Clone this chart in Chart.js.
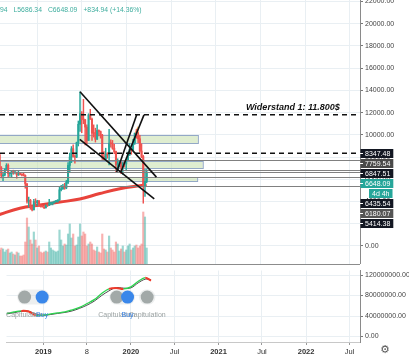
<!DOCTYPE html>
<html><head><meta charset="utf-8">
<script src="https://cdn.jsdelivr.net/npm/chart.js@4.4.0/dist/chart.umd.min.js"></script>
<style>
html,body{margin:0;padding:0;background:#fff;overflow:hidden}
#wrap{position:relative;width:409px;height:359px;background:#fff}
#c1{position:absolute;left:0;top:0}
#c2{position:absolute;left:0;top:264px}
</style></head><body>
<div id="wrap"><canvas id="c1" width="409" height="264"></canvas><canvas id="c2" width="409" height="95"></canvas></div>
<script>
// ---------- DATA ----------
const weeks = ["2018-07-30","2018-08-06","2018-08-13","2018-08-20","2018-08-27","2018-09-03","2018-09-10","2018-09-17","2018-09-24","2018-10-01","2018-10-08","2018-10-15","2018-10-22","2018-10-29","2018-11-05","2018-11-12","2018-11-19","2018-11-26","2018-12-03","2018-12-10","2018-12-17","2018-12-24","2018-12-31",
"2019-01-07","2019-01-14","2019-01-21","2019-01-28","2019-02-04","2019-02-11","2019-02-18","2019-02-25","2019-03-04","2019-03-11","2019-03-18","2019-03-25","2019-04-01","2019-04-08","2019-04-15","2019-04-22","2019-04-29","2019-05-06","2019-05-13","2019-05-20","2019-05-27","2019-06-03","2019-06-10","2019-06-17","2019-06-24","2019-07-01","2019-07-08","2019-07-15","2019-07-22","2019-07-29","2019-08-05","2019-08-12","2019-08-19","2019-08-26","2019-09-02","2019-09-09","2019-09-16","2019-09-23","2019-09-30","2019-10-07","2019-10-14","2019-10-21","2019-10-28","2019-11-04","2019-11-11","2019-11-18","2019-11-25","2019-12-02","2019-12-09","2019-12-16","2019-12-23","2019-12-30",
"2020-01-06","2020-01-13","2020-01-20","2020-01-27","2020-02-03","2020-02-10","2020-02-17","2020-02-24","2020-03-02","2020-03-09","2020-03-16","2020-03-23"];
const open = [8200,7030,6310,6390,6910,7260,6500,6520,6710,6600,6610,6390,6490,6440,6380,6350,5600,4010,4100,3550,3250,4000,3900,
4050,3620,3550,3520,3450,3650,3640,3810,3860,3900,4000,4010,4150,5060,5150,5300,5220,5720,7250,8010,8750,8050,8000,9300,10950,11900,11400,11350,10700,9500,11800,11400,10150,10130,9600,10400,10300,9980,8050,7800,8300,8200,9250,9200,8800,8500,7300,7400,7500,7100,7500,7380,
7750,8190,8700,8600,9300,10150,9900,9650,8550,8050,5360,5813.15];
const high = [8280,7150,6620,6950,7410,7390,6600,6800,6820,6680,6650,6800,6550,6500,6550,6400,5620,4400,4200,3600,4200,4250,4100,
4100,3700,3650,3550,3700,3700,4200,3950,3950,4050,4100,4150,5300,5450,5550,5650,5900,7500,8350,8950,9100,8200,9350,11250,13880,12100,13200,11400,10900,11900,12300,11500,10900,10600,10900,10450,10350,10050,8500,8800,8400,10500,9550,9500,9150,8550,7850,7700,7550,7500,7700,7800,
8450,9200,8750,9600,10160,10500,10200,9950,9200,8150,6900,6882.94];
const low = [6900,6120,5880,6300,6880,6150,6250,6200,6450,6480,6100,6350,6400,6300,6300,5200,3850,3500,3300,3150,3250,3550,3650,
3550,3500,3500,3350,3400,3550,3640,3700,3700,3850,3950,3950,4100,4950,5100,5100,5150,5600,6600,7500,8000,7450,7950,9000,10300,10200,11000,9100,9200,9500,11400,9500,9800,9350,9600,9900,9700,7800,7700,7800,7900,7300,8900,8700,8300,6600,6850,7100,6500,6450,7100,6850,
7700,8150,8250,8550,9150,9700,9300,8450,7950,3850,4450,5686.34];
const close = [7030,6310,6390,6910,7260,6500,6520,6710,6600,6610,6390,6490,6440,6380,6350,5600,4010,4100,3550,3250,4000,3900,4050,
3620,3550,3520,3450,3650,3640,3810,3860,3900,4000,4010,4150,5060,5150,5300,5220,5720,7250,8010,8750,8050,8000,9300,10950,11900,11400,11350,10700,9500,11800,11400,10150,10130,9600,10400,10300,9980,8050,7800,8300,8200,9250,9200,8800,8500,7300,7400,7500,7100,7500,7380,7750,
8190,8700,8600,9300,10150,9900,9650,8550,8050,5360,5813.15,6648.09];
const volume = [14,16,15,12,14,15,11,12,10,9,12,11,8,8,9,22,46,37,24,20,32,24,16,
18,12,11,12,13,12,22,16,14,13,12,13,34,24,18,20,19,30,40,26,30,18,19,27,40,28,32,30,18,20,22,20,14,13,17,12,11,30,15,14,12,28,16,14,12,22,20,13,15,18,12,14,
18,20,14,16,18,19,16,18,20,52,47,16];

const maDates = ["2018-07-23","2018-10-21","2019-01-11","2019-04-03","2019-06-23","2019-09-13","2019-12-04","2020-02-24","2020-03-23"];
const maValues = [2780,3400,3680,3950,4230,4720,5150,5420,5490];

const sketchDates = ["2020-01-27","2020-02-05","2020-02-14","2020-02-22","2020-03-01"];
const sketchPrices = [8900,10100,10600,9700,8700];

const priceTicks = [0,2000,4000,6000,8000,10000,12000,14000,16000,18000,20000,22000];
const tickDates = ["2019-01-01","2019-07-01","2020-01-01","2020-07-01","2021-01-01","2021-07-01","2022-01-01","2022-07-01"];
const tickLabels = ["2019","8","2020","Jul","2021","Jul","2022","Jul"];

const zoneLow  = [9300, 7058, 5830];
const zoneHigh = [9955, 7623, 6215];
const zoneEnd  = ["2020-10-19","2020-11-08","2020-10-16"];

const trendFromDate  = ["2019-06-24","2019-06-23","2019-11-21","2019-12-08"];
const trendFromPrice = [13880, 9600, 6658, 6658];
const trendToDate    = ["2020-05-02","2020-04-23","2020-02-11","2020-03-12"];
const trendToPrice   = [6200, 4230, 11800, 11800];

const dashedLevels = [11800, 8347.48];
const solidLevels = [7759.54, 6847.51, 6648.09, 6180.07, 5414.38];
const levelPrices = [8347.48, 7759.54, 6847.51, 6648.09, 6435.54, 6180.07, 5414.38];
const countdownText = "4d 4h";
const resistanceText = "Widerstand 1: 11.800$";
const resistanceDate = "2021-05-04";
const resistancePrice = 12500;
const headerTokens = ["94","L5686.34","C6648.09","+834.94 (+14.36%)"];

const hashDates = ["2018-08-01","2018-09-01","2018-10-01","2018-11-01","2018-12-01","2019-01-01","2019-02-01","2019-03-01","2019-04-01","2019-05-01","2019-06-01","2019-07-01","2019-08-01","2019-09-01","2019-10-01","2019-11-01","2019-12-01","2020-01-01","2020-02-01","2020-03-01","2020-03-25"];
const hash30 = [45,48,50,49,41,42,44,46,48,52,57,64,72,84,93,95,93,97,108,115,109];
const hash60 = [44,46.5,49,49.5,44,41.5,43,45,47,50,55,61,69,80,89,95.5,94.5,95,105,112,111];
const hashTicks = [0,40000000,80000000,120000000];
const signalDates = ["2018-10-15","2018-12-27","2019-11-03","2019-12-18","2020-03-09"];
const signalKinds = ["cap","buy","cap","buy","cap"];
const signalLevel = 77000000;
const pillFrom = ["2018-10-15","2019-11-03","2020-03-06"];
const pillTo   = ["2018-12-27","2019-12-18","2020-03-12"];

// ---------- STYLE / LAYOUT ----------
const UP='#26a69a', DN='#ef5350';
const levelBoxColors = ['#131722','#4a4a4a','#131722','#26a69a','#131722','#555555','#131722'];
const FONT = '"Liberation Sans", Arial, sans-serif';
const xMin = 2018.5796, xMax = 2022.6155;
const AXW = 49;

function yf(s){ const d = Date.parse(s+'T00:00:00Z'); const y = +s.slice(0,4); const a = Date.UTC(y,0,1), b = Date.UTC(y+1,0,1); return y + (d-a)/(b-a); }

function xScale(show){
  return { type:'linear', min:xMin, max:xMax, offset:false,
    afterBuildTicks: s => { s.ticks = tickDates.map(d => ({value: yf(d)})); },
    ticks:{ display:show, autoSkip:false, maxRotation:0, padding:2, color:'#333',
      callback:(v,i)=>tickLabels[i],
      font: c => ({size:7.5, family:FONT, weight: /^\d{4}$/.test(tickLabels[c.index]||'') ? 'bold':'normal'}) },
    grid:{ color:'#e9eff3', offset:false, drawTicks:show, tickLength:3, tickColor:'#999' },
    border:{ display:show, color:'#c8c8c8' },
    afterFit: s => { s.height = show ? 17 : 0; s.paddingLeft = 0; s.paddingRight = 0; } };
}
function yAxis(min,max,ticks){
  return { position:'right', min, max,
    afterBuildTicks: s => { s.ticks = ticks.map(v => ({value:v})); },
    ticks:{ callback: v => Number(v).toFixed(2), font:{size:7, family:FONT}, color:'#444', padding:2, autoSkip:false },
    grid:{ color:'#e9eff3', drawTicks:true, tickLength:3, tickColor:'#777' },
    border:{ color:'#8a8a8a' },
    afterFit: s => { s.width = AXW; s.paddingTop = 0; s.paddingBottom = 0; } };
}

const candleX = weeks.map(yf);
const isUp = close.map((c,i)=> c >= open[i]);

const drawPlugin = {
  id:'drawings',
  beforeDatasetsDraw(chart){
    const {ctx, chartArea:a, scales:{x,y}} = chart;
    ctx.save(); ctx.beginPath(); ctx.rect(a.left,a.top,a.width,a.height); ctx.clip();
    zoneLow.forEach((lo,i)=>{
      const x0 = a.left-2, x1 = x.getPixelForValue(yf(zoneEnd[i]));
      const y0 = Math.round(y.getPixelForValue(zoneHigh[i])), y1 = Math.round(y.getPixelForValue(lo));
      ctx.fillStyle='rgba(196,222,170,0.55)'; ctx.fillRect(x0,y0,x1-x0,y1-y0);
      ctx.strokeStyle='#93a8c6'; ctx.lineWidth=1; ctx.strokeRect(x0+0.5,y0+0.5,x1-x0,y1-y0);
    });
    ctx.restore();
  },
  afterDatasetsDraw(chart){
    const {ctx, chartArea:a, scales:{x,y}} = chart;
    ctx.save(); ctx.beginPath(); ctx.rect(a.left,a.top,a.width,a.height); ctx.clip();
    solidLevels.forEach(p=>{ const py=Math.round(y.getPixelForValue(p))+0.5; ctx.strokeStyle='#808080'; ctx.lineWidth=1; ctx.beginPath(); ctx.moveTo(a.left,py); ctx.lineTo(a.right,py); ctx.stroke(); });
    ctx.setLineDash([5,4]);
    dashedLevels.forEach(p=>{ const py=y.getPixelForValue(p); ctx.strokeStyle='#111'; ctx.lineWidth=1.5; ctx.beginPath(); ctx.moveTo(a.left,py); ctx.lineTo(a.right,py); ctx.stroke(); });
    ctx.setLineDash([]);
    trendFromDate.forEach((d,i)=>{ ctx.strokeStyle='#111'; ctx.lineWidth=1.6; ctx.beginPath();
      ctx.moveTo(x.getPixelForValue(yf(d)), y.getPixelForValue(trendFromPrice[i]));
      ctx.lineTo(x.getPixelForValue(yf(trendToDate[i])), y.getPixelForValue(trendToPrice[i])); ctx.stroke(); });
    ctx.fillStyle='#111'; ctx.font='italic bold 9px '+FONT; ctx.textBaseline='middle'; ctx.textAlign='left';
    ctx.fillText(resistanceText, x.getPixelForValue(yf(resistanceDate)), y.getPixelForValue(resistancePrice));
    ctx.restore();
  },
  afterDraw(chart){
    const {ctx, chartArea:a, scales:{y}} = chart;
    ctx.save();
    ctx.font='7px '+FONT; ctx.textBaseline='middle'; ctx.textAlign='left';
    let prev = -100;
    const rows = [];
    levelPrices.forEach((p,i)=>{ let cy = Math.max(y.getPixelForValue(p), prev+10); rows.push({cy, text:p.toFixed(2), color:levelBoxColors[i], main:true}); prev = cy;
      if (i===3){ cy = prev+10; rows.push({cy, text:countdownText, color:UP, main:false}); prev = cy; } });
    rows.forEach(r=>{ const left = r.main ? a.right+0.5 : a.right+9; const tx = r.main ? a.right+5 : left+3; const w = ctx.measureText(r.text).width;
      ctx.fillStyle=r.color; ctx.fillRect(left, Math.round(r.cy-4.5), tx+w+3-left, 9);
      ctx.fillStyle='#fff'; if (r.main) ctx.fillRect(a.right, Math.round(r.cy), 3, 1);
      ctx.fillText(r.text, tx, r.cy+0.5); });
    ctx.fillStyle='#3fae9f'; ctx.font='6.8px '+FONT; let hx = 0;
    headerTokens.forEach(t=>{ ctx.fillText(t, hx, 10); hx += ctx.measureText(t).width + 6; });
    ctx.restore();
  }
};

new Chart(document.getElementById('c1'), {
  type:'bar',
  data:{ datasets:[
    {type:'bar', label:'body', yAxisID:'y', order:0, grouped:false, barThickness:1.4, minBarLength:1, borderWidth:0,
      data: weeks.map((d,i)=>({x:candleX[i], y:[open[i], close[i]]})), backgroundColor: isUp.map(u=>u?UP:DN)},
    {type:'bar', label:'wick', yAxisID:'y', order:1, grouped:false, barThickness:0.8, borderWidth:0,
      data: weeks.map((d,i)=>({x:candleX[i], y:[low[i], high[i]]})), backgroundColor: isUp.map(u=>u?UP:DN)},
    {type:'line', label:'sketch', yAxisID:'y', order:2, borderColor:'rgba(245,160,60,0.85)', borderWidth:1.2, tension:0, pointRadius:0,
      data: sketchDates.map((d,i)=>({x:yf(d), y:sketchPrices[i]}))},
    {type:'line', label:'MA', yAxisID:'y', order:3, borderColor:'#e8433b', borderWidth:3, tension:0.4, pointRadius:0,
      data: maDates.map((d,i)=>({x:yf(d), y:maValues[i]}))},
    {type:'bar', label:'volume', yAxisID:'yv', order:4, grouped:false, barThickness:1.5, borderWidth:0,
      data: weeks.map((d,i)=>({x:candleX[i], y:volume[i]})), backgroundColor: isUp.map(u=>u?'rgba(38,166,154,0.45)':'rgba(239,83,80,0.45)')}
  ]},
  options:{ responsive:false, animation:false, devicePixelRatio:1, events:[], layout:{padding:0},
    plugins:{legend:{display:false}, tooltip:{enabled:false}},
    scales:{ x: xScale(false), y: yAxis(-1620, 22135, priceTicks), yv:{display:false, min:0, max:264} } },
  plugins:[drawPlugin]
});

const hashPlugin = {
  id:'hashdraw',
  afterDatasetsDraw(chart){
    const {ctx, chartArea:a, scales:{x,y}} = chart;
    ctx.save();
    ctx.strokeStyle='#8c8c8c'; ctx.lineWidth=1; ctx.beginPath(); ctx.moveTo(0,0.5); ctx.lineTo(a.right,0.5); ctx.stroke();
    ctx.font='7px '+FONT; ctx.textAlign='center'; ctx.textBaseline='middle';
    const ly = y.getPixelForValue(signalLevel)+18;
    ['cap','buy'].forEach(k=>{ signalDates.forEach((d,i)=>{ if (signalKinds[i]!==k) return;
      ctx.fillStyle = k==='cap' ? '#9aa1a1' : '#3d86e8';
      ctx.fillText(k==='cap' ? 'Capitulation' : 'Buy', x.getPixelForValue(yf(d)), ly); }); });
    ctx.fillStyle='#555'; ctx.font='11px "DejaVu Sans"'; ctx.fillText('\u2699', 385, 86);
    ctx.restore();
  }
};

new Chart(document.getElementById('c2'), {
  type:'line',
  data:{ datasets:[
    {label:'signals', showLine:false, order:0, pointRadius:6.5, pointBorderWidth:0,
      pointBackgroundColor: signalKinds.map(k=>k==='cap'?'#a2a9a8':'#3a87ea'),
      data: signalDates.map(d=>({x:yf(d), y:signalLevel}))},
    {label:'30d', order:1, borderWidth:1.3, tension:0.35, pointRadius:0, borderColor:'#2bd44e',
      segment:{ borderColor: c => hash30[c.p1DataIndex] < hash60[c.p1DataIndex] ? '#ef3b2c' : '#2bd44e',
                borderWidth: c => hash30[c.p1DataIndex] < hash60[c.p1DataIndex] ? 2 : 1.3 },
      data: hashDates.map((d,i)=>({x:yf(d), y:hash30[i]*1e6}))},
    {label:'60d', order:2, borderWidth:1, tension:0.35, pointRadius:0, borderColor:'#4a4a4a',
      data: hashDates.map((d,i)=>({x:yf(d), y:hash60[i]*1e6}))},
    ...pillFrom.map((d,i)=>({label:'pill'+i, order:3, borderWidth:15, borderCapStyle:'round', pointRadius:0, borderColor:'rgba(210,214,214,0.4)',
      data:[{x:yf(d), y:signalLevel},{x:yf(pillTo[i]), y:signalLevel}]}))
  ]},
  options:{ responsive:false, animation:false, devicePixelRatio:1, events:[], layout:{padding:0},
    plugins:{legend:{display:false}, tooltip:{enabled:false}},
    scales:{ x: xScale(true), y: yAxis(-10750000, 128960000, hashTicks) } },
  plugins:[hashPlugin]
});
</script></body></html>
